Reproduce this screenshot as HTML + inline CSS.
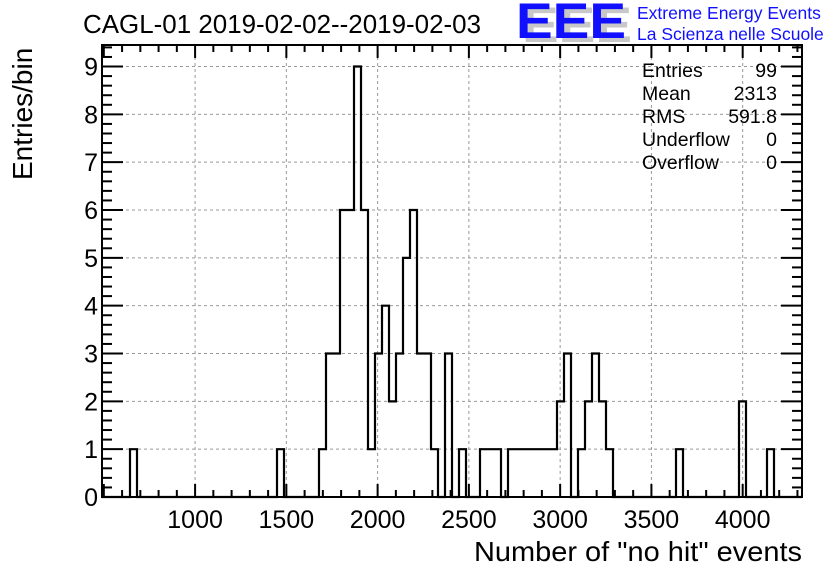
<!DOCTYPE html>
<html><head><meta charset="utf-8"><style>
body{margin:0;background:#fff;}
svg{display:block;font-family:"Liberation Sans",sans-serif;}
</style></head><body>
<svg id="chart" width="836" height="572" viewBox="0 0 836 572" xmlns="http://www.w3.org/2000/svg">
<g id="grid"></g>
<g id="ticks"></g>
<path id="hist" fill="none" stroke="#000" stroke-width="2.2"/>
<rect x="102" y="45" width="700" height="452" fill="none" stroke="#000" stroke-width="2"/>
<g id="xlabels" font-size="25" text-anchor="middle"></g>
<g id="ylabels" font-size="25" text-anchor="end"></g>
<text x="83" y="33" font-size="25.5" textLength="398" lengthAdjust="spacingAndGlyphs">CAGL-01 2019-02-02--2019-02-03</text>
<text x="802" y="561" font-size="28" text-anchor="end" textLength="328" lengthAdjust="spacingAndGlyphs">Number of "no hit" events</text>
<text transform="translate(32,180) rotate(-90)" font-size="28">Entries/bin</text>
<g font-weight="bold" font-size="50">
<text x="522" y="42" fill="#c8c8c8" textLength="110" lengthAdjust="spacingAndGlyphs">EEE</text>
<text x="516" y="38" fill="#1010ff" textLength="110" lengthAdjust="spacingAndGlyphs">EEE</text>
</g>
<text x="637" y="19" font-size="17.5" fill="#1010ff">Extreme Energy Events</text>
<text x="637" y="40" font-size="17.5" fill="#1010ff">La Scienza nelle Scuole</text>
<g font-size="19.5">
<text x="642" y="77">Entries</text><text x="777" y="77" text-anchor="end">99</text>
<text x="642" y="100">Mean</text><text x="777" y="100" text-anchor="end">2313</text>
<text x="642" y="123">RMS</text><text x="777" y="123" text-anchor="end">591.8</text>
<text x="642" y="146">Underflow</text><text x="777" y="146" text-anchor="end">0</text>
<text x="642" y="169">Overflow</text><text x="777" y="169" text-anchor="end">0</text>
</g>
</svg>
<script>
const xMin = 490;
const binWidth = 38.35;
const binIndex = [4,25,31,32,33,34,35,36,37,38,39,40,41,42,43,44,45,46,47,49,51,54,55,56,58,59,60,61,62,63,64,65,66,68,69,70,71,72,82,91,95];
const binCounts = [1,1,1,3,3,6,6,9,6,1,3,4,2,3,5,6,3,3,1,3,1,1,1,1,1,1,1,1,1,1,1,2,3,1,2,3,2,1,1,2,1];
const nBins = 100;
const xTickLabels = [1000,1500,2000,2500,3000,3500,4000];
const yTickLabels = [0,1,2,3,4,5,6,7,8,9];
const NS = "http://www.w3.org/2000/svg";
const X0=102, X1=802, Y0=497, YT=45;
const xMax = xMin + nBins*binWidth;
const yMax = 9.45;
function xs(v){return X0 + (v-xMin)/(xMax-xMin)*(X1-X0);}
function ys(v){return Y0 - v/yMax*(Y0-YT);}
function mk(tag, attrs, parent){const e=document.createElementNS(NS,tag);for(const k in attrs)e.setAttribute(k,attrs[k]);parent.appendChild(e);return e;}
const counts = new Array(nBins).fill(0);
binIndex.forEach((b,i)=>{counts[b]=binCounts[i];});
let d = `M${xs(xMin)},${ys(0)}`;
for(let i=0;i<nBins;i++){
  const a=xMin+i*binWidth, b=a+binWidth;
  d += ` L${xs(a)},${ys(counts[i])} L${xs(b)},${ys(counts[i])}`;
}
d += ` L${xs(xMax)},${ys(0)}`;
document.getElementById('hist').setAttribute('d', d);
const grid=document.getElementById('grid'), ticks=document.getElementById('ticks');
const xl=document.getElementById('xlabels'), yl=document.getElementById('ylabels');
xTickLabels.forEach(v=>{
  const x=xs(v);
  const g=mk('line',{x1:x,x2:x,y1:YT,y2:Y0,stroke:'#999','stroke-dasharray':'3,3','stroke-width':1},grid);
  
  
  const t=mk('text',{x:x,y:528},xl);
  
  
  t.textContent=v;
});
yTickLabels.forEach(v=>{
  const y=ys(v);
  if(v>0){
    const g=mk('line',{x1:X0,x2:X1,y1:y,y2:y,stroke:'#999','stroke-dasharray':'3,3','stroke-width':1},grid);
    
    
  }
  const t=mk('text',{x:98,y:y+9},yl);
  
  
  t.textContent=v;
});
for(let v=500; v<=xMax; v+=100){
  if(v<xMin) continue;
  const x=xs(v), major=(v%500===0);
  const L=major?13:7;
  const t1=mk('line',{x1:x,x2:x,y1:Y0,y2:Y0-L,stroke:'#000','stroke-width':2},ticks);
  
  
  const t2=mk('line',{x1:x,x2:x,y1:YT,y2:YT+L,stroke:'#000','stroke-width':2},ticks);
  
  
}
for(let k=0; k<=47; k++){
  const v=k*0.2; if(v>yMax) break;
  const y=ys(v), major=(k%5===0);
  const L=major?21:10;
  const t1=mk('line',{x1:X0,x2:X0+L,y1:y,y2:y,stroke:'#000','stroke-width':2},ticks);
  
  
  const t2=mk('line',{x1:X1,x2:X1-L,y1:y,y2:y,stroke:'#000','stroke-width':2},ticks);
  
  
}
</script>
</body></html>
